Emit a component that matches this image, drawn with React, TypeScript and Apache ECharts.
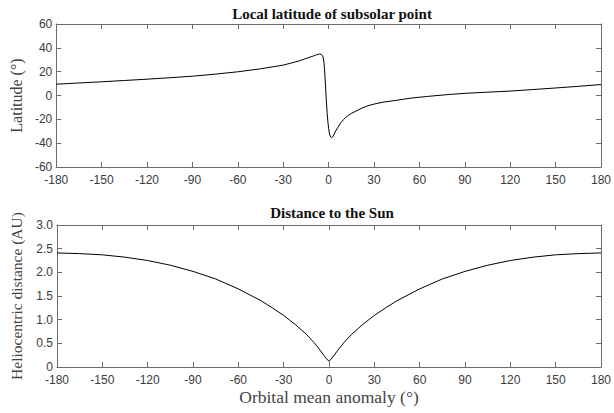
import React, { useEffect, useRef } from "react";
import * as echarts from "echarts";

const latAnomaly = [-180,-165,-150,-135,-120,-105,-90,-75,-60,-45,-30,-20,-15,-10,-8,-6,-5,-4,-3.5,-3,-2.5,-2,-1.5,-1,-0.5,0,0.5,1,1.5,2,2.5,3,4,5,6,8,10,12,15,18,22,26,30,36,45,55,66,79,90,105,120,135,150,165,180];
const latitude = [9.5,10.5,11.5,12.6,13.7,14.9,16.2,17.9,19.9,22.4,25.5,28.8,31,33.2,34.2,34.8,34.6,33.5,31.5,27,18,7,-4,-14,-22,-27.5,-31.5,-33.8,-35,-35.3,-35,-34,-31.5,-29,-27,-23,-20,-17.6,-15,-13.2,-10.6,-8.6,-7.2,-5.6,-4,-2.1,-0.7,0.8,1.8,2.8,3.7,5,6.3,7.7,9.2];

const distAnomaly = [-180,-165,-150,-135,-120,-105,-90,-75,-60,-45,-37.5,-30,-26,-22,-15,-10,-6,-3,-1.5,0,1.5,3,6,10,15,22,26,30,37.5,45,60,75,90,105,120,135,150,165,180];
const distance = [2.41,2.395,2.37,2.32,2.25,2.15,2.02,1.86,1.65,1.40,1.25,1.09,0.99,0.89,0.69,0.52,0.36,0.23,0.17,0.12,0.17,0.23,0.36,0.52,0.69,0.89,0.99,1.09,1.25,1.40,1.65,1.86,2.02,2.15,2.25,2.32,2.37,2.395,2.41];

const xTicks = { min: -180, max: 180, interval: 30 };
const latTicks = { min: -60, max: 60, interval: 20 };
const distTicks = { min: 0, max: 3, interval: 0.5 };

const AXIS_COLOR = "#6a6a6a";
const LABEL_COLOR = "#3a3a3a";
const SANS = "Liberation Sans";
const SERIF = "Liberation Serif";

export default function App() {
  const ref = useRef<HTMLDivElement>(null);
  useEffect(() => {
    if (!ref.current) return;
    const chart = echarts.init(ref.current, null, { renderer: "svg" });
    const axisLine = { show: true, onZero: false, lineStyle: { color: AXIS_COLOR, width: 1 } };
    const tick = { show: true, inside: true, length: 5, lineStyle: { color: AXIS_COLOR, width: 1 } };
    const lbl = { color: LABEL_COLOR, fontFamily: SANS, fontSize: 12 };
    const mkX = (gridIndex: number, extra: any) => ({
      type: "value", gridIndex, ...xTicks, axisLine, axisTick: tick, splitLine: { show: false }, ...extra,
    });
    const mkY = (gridIndex: number, ticks: any, extra: any) => ({
      type: "value", gridIndex, ...ticks, axisLine, axisTick: tick, splitLine: { show: false }, ...extra,
    });
    const titleStyle = { fontFamily: SERIF, fontWeight: "bold", fontSize: 15, color: "#111" };
    const option: any = {
      animation: false,
      title: [
        { text: "Local latitude of subsolar point", left: 327, top: 1, textAlign: "center", textStyle: titleStyle },
        { text: "Distance to the Sun", left: 327, top: 200, textAlign: "center", textStyle: titleStyle },
      ],
      grid: [
        { left: 47, right: 7.5, top: 24, height: 143 },
        { left: 47, right: 7.5, top: 225, height: 142 },
      ],
      xAxis: [
        mkX(0, { position: "bottom", axisLabel: { ...lbl, margin: 7 } }),
        mkX(0, { position: "top", axisLabel: { show: false } }),
        mkX(1, { position: "bottom", axisLabel: { ...lbl, margin: 7 },
          name: "Orbital mean anomaly (°)", nameLocation: "middle", nameGap: 21,
          nameTextStyle: { fontFamily: SERIF, fontSize: 17.5, color: "#444" } }),
        mkX(1, { position: "top", axisLabel: { show: false } }),
      ],
      yAxis: [
        mkY(0, latTicks, { position: "left", axisLabel: { ...lbl, margin: 4, lineHeight: 12 },
          name: "Latitude (°)", nameLocation: "middle", nameGap: 30,
          nameTextStyle: { fontFamily: SERIF, fontSize: 16, color: "#444" } }),
        mkY(0, latTicks, { position: "right", axisLabel: { show: false } }),
        mkY(1, distTicks, { position: "left",
          axisLabel: { ...lbl, margin: 4, lineHeight: 12, formatter: (v: number) => (v === 0 ? "0" : v.toFixed(1)) },
          name: "Heliocentric distance (AU)", nameLocation: "middle", nameGap: 33,
          nameTextStyle: { fontFamily: SERIF, fontSize: 15.5, color: "#444" } }),
        mkY(1, distTicks, { position: "right", axisLabel: { show: false } }),
      ],
      series: [
        { type: "line", xAxisIndex: 0, yAxisIndex: 0, showSymbol: false, symbol: "none",
          data: latAnomaly.map((x, i) => [x, latitude[i]]),
          lineStyle: { color: "#000", width: 1 } },
        { type: "line", xAxisIndex: 2, yAxisIndex: 2, showSymbol: false, symbol: "none",
          data: distAnomaly.map((x, i) => [x, distance[i]]),
          lineStyle: { color: "#000", width: 1 } },
      ],
    };
    chart.setOption(option);
    return () => chart.dispose();
  }, []);
  return <div ref={ref} style={{ width: 614, height: 413, position: "absolute", left: 0, top: 0 }} />;
}
